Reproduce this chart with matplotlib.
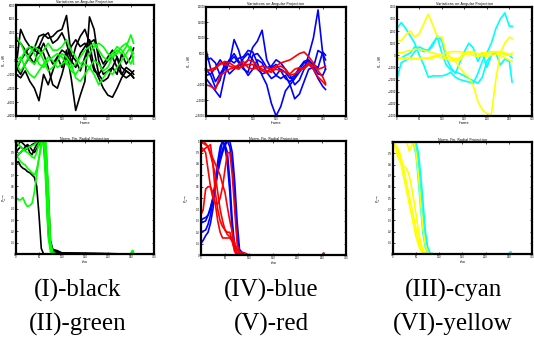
import matplotlib.pyplot as plt

# frames for the angular projection panels
frames = [0, 10, 20, 30, 40, 50, 60, 70, 80, 90, 100, 110, 120, 130, 140,
          150, 160, 170, 180, 190, 200, 210, 220, 230, 240, 250, 256]

# (I) black / (II) green  -- angular projection
black_ang = [
    [-1000, 4500, 3000, 2000, 1800, 3500, 3800, 3200, 3500, 4200, 4500, 6500, 800, 0, -1500, 500, 2500, 3000, 1000, -500, 500, 1500, 500, -1000, -1500, -2000, -2500],
    [-2000, -2500, -1500, -3000, -4000, -5800, -2000, -3500, -1500, 500, -1000, 1500, -2500, -7200, -5000, -3000, 6300, 4500, 0, -2000, -1500, -1000, -2000, 1000, -500, 500, 1800],
    [3000, 2500, 1500, 500, -500, 2000, 3500, 4000, 2500, 3000, 4000, 2500, 0, -1000, 1000, 2000, 3000, 1500, -2000, -3000, -2500, -1000, 500, -2000, -1000, -1500, -2000],
    [-1500, 0, 1000, 2000, 1500, 1000, 2500, 1000, -500, 500, 1500, 1000, -500, 2000, 3500, 4500, 2500, -1000, -2500, -4000, -5000, -5300, -4000, -2500, -1500, -2000, -2500],
    [-1000, -2000, -500, 500, 1500, 2000, 1000, -1000, -3500, -4000, -2000, 500, 2000, 3000, 2000, 2500, 1000, -1500, -2000, -1000, 0, 500, -1000, -2000, -2500, -2000, -1500],
]
green_ang = [
    [3500, 2500, 1000, 0, -500, 500, 1500, 2500, 1500, 1500, 2000, 3000, 1500, 500, -500, 0, 1000, 2000, 2500, 2000, 1000, 500, 1500, 1000, 2000, 3700, 2500],
    [-1000, 0, 1500, 2000, 1000, -500, -1000, 0, 500, 1000, 500, -500, -1000, -500, 500, 1500, 2000, 2500, 1500, 500, 0, 1000, 2000, 1500, 500, -500, 500],
    [0, 500, -1000, -2000, -2500, -1500, -500, 500, 0, -1000, -500, 0, -1500, -2000, -1000, -500, -1000, -2000, -3500, -2500, -1500, -2000, -1000, 0, 1000, 2000, -500],
    [-500, -1500, -500, 1000, 2000, 1500, 0, -1500, -1000, 0, 1000, 500, -500, -2500, -3000, -2000, -1000, 0, -500, -1500, -1000, 500, 1000, 2000, 2500, 1500, 1000],
]

# (IV) blue / (V) red
blue_ang = [
    [0, -2000, -6000, -3500, 2000, 2500, 4000, 2000, 0, -1000, 4500, 5000, 3000, 500, 1000, 3000, 2000, 0, -2000, -5000, -3500, 0, 4500, 10000, 19000, 5000, 3000],
    [6000, 0, -4000, -1500, 1000, 3000, 2000, 3500, 4000, 6000, 5500, 2000, -2000, -5000, -11000, -15000, -12000, -7000, -5000, -3000, -1000, 1000, 2000, 0, -3000, -5500, -6500],
    [-3000, -5000, -7000, -9000, -2000, 3000, 5000, 2500, 1000, 3000, 7000, 9000, 12500, 3000, 0, -2000, -3000, -2000, -5000, -9500, -8000, -4000, 0, 500, 6000, 5000, 0],
    [3000, 3500, 2000, -2000, 0, 2000, 9500, 6000, 500, -2000, 0, 3000, 2000, -1000, -3000, -2000, 0, -1000, -3000, -2000, 500, 2500, 3000, 1000, -1500, -2000, 0],
    [-2000, -1500, 500, 3000, 1000, -1500, 0, 1000, 3500, 5000, 3000, 0, -1500, -1000, 500, 1500, -500, -3000, -4000, -2500, 0, 2000, 2500, 1500, 500, 5500, 4500],
]
red_ang = [
    [-5000, -5500, -6500, -2000, -1000, 0, 500, 1500, 2500, 500, 0, 500, 1000, 500, 0, 1000, 2000, 2500, 3000, 4000, 5000, 5500, 4000, 2000, -500, -2500, -4500],
    [0, -500, 0, 2000, 1500, 1000, 500, 0, 1500, 3000, 2500, 1000, 0, -500, -1000, 500, 1000, 0, -2000, -1500, -500, 500, 2000, 1000, 0, 500, 1000],
    [-1000, 0, 500, 1500, 2500, 2000, 1000, 500, 1000, 1500, 1500, 0, -500, -1000, -500, 0, -500, -1000, -1500, 0, 500, 0, 1500, 0, -2500, -4000, -5000],
]

# (III) cyan / (VI) yellow
cyan_ang = [
    [2200, 2700, 2200, 1600, 1000, 0, -800, -1800, -1700, -1700, -1700, -1600, -1400, -1800, -2000, -2100, -2200, -2300, -1500, -500, 200, 1000, 2200, 3000, 3500, 2400, 2400],
    [-2000, -600, -400, -200, 300, 700, 500, 400, 800, 1600, 1200, -200, -1000, -1500, -600, 300, 1000, 600, -500, 200, -1000, 0, 200, -800, -300, -500, -2200],
    [-300, -200, 0, 200, 700, 500, 300, 400, 1000, 1500, 200, -800, -1200, -1400, -1500, -1700, -1900, -2100, -2300, -1800, -500, 0, 300, 200, 100, 0, -200],
]
yellow_ang = [
    [1200, 1200, 1700, 2000, 1500, 1800, 2600, 3400, 2500, 1500, 1500, 200, -200, -500, -1000, -1500, -1800, -2500, -3800, -4500, -4800, -4900, -2000, 200, 1000, 1500, 1400],
    [200, 200, 300, 400, 500, 500, 400, 300, 200, 100, 0, -100, -200, -300, -200, 200, 300, 200, 100, 200, 200, 300, 300, 200, 100, 0, 200],
    [-300, -300, -300, -300, -300, -300, -250, -200, -100, 0, 100, 200, 300, 300, 300, 200, 100, 0, -100, 0, 100, 200, 300, 300, 200, 100, 0],
    [-200, -200, -200, -200, -250, -250, -250, -250, -200, -100, -200, -300, -400, -500, -400, 0, 300, 300, 100, 0, -100, 0, 100, 0, -200, -400, -500],
]

# rho values for the radial projection panels
rho = [0, 5, 10, 15, 20, 25, 30, 35, 40, 45, 50, 55, 60, 65, 70,
       75, 80, 90, 100, 250, 254, 256]

black_rad = [
    [0.80, 0.82, 0.78, 0.76, 0.75, 0.73, 0.72, 0.70, 0.68, 0.60, 0.35, 0.05, 0.0, 0.0, 0.0, 0.0, 0.0, 0.0, 0.0, 0.0, 0.0, 0.0],
    [0.90, 0.93, 0.95, 0.93, 0.92, 0.94, 0.95, 0.97, 0.98, 0.99, 1.0, 1.0, 1.0, 0.80, 0.30, 0.08, 0.04, 0.02, 0.01, 0.0, 0.0, 0.0],
    [0.95, 0.97, 1.0, 0.98, 0.96, 0.95, 0.90, 0.88, 0.93, 0.97, 1.0, 1.0, 1.0, 0.95, 0.55, 0.12, 0.04, 0.03, 0.01, 0.0, 0.0, 0.0],
    [0.85, 0.88, 0.90, 0.92, 0.95, 0.97, 0.95, 0.92, 0.90, 0.93, 0.97, 1.0, 1.0, 0.70, 0.20, 0.05, 0.02, 0.01, 0.0, 0.0, 0.0, 0.0],
]
green_rad = [
    [0.50, 0.48, 0.48, 0.50, 0.45, 0.42, 0.43, 0.45, 0.55, 0.70, 0.85, 0.95, 1.0, 1.0, 0.60, 0.10, 0.01, 0.0, 0.0, 0.0, 0.03, 0.0],
    [0.88, 0.85, 0.82, 0.80, 0.79, 0.76, 0.74, 0.72, 0.70, 0.75, 0.85, 1.0, 1.0, 0.60, 0.15, 0.02, 0.0, 0.0, 0.0, 0.0, 0.03, 0.0],
    [1.0, 0.98, 0.95, 0.93, 0.91, 0.90, 0.88, 0.86, 0.85, 0.90, 0.98, 1.0, 1.0, 0.85, 0.35, 0.05, 0.0, 0.0, 0.0, 0.0, 0.03, 0.0],
    [0.85, 0.88, 0.90, 0.92, 0.93, 0.94, 0.95, 0.96, 0.97, 0.99, 1.0, 1.0, 1.0, 0.95, 0.50, 0.10, 0.01, 0.0, 0.0, 0.0, 0.03, 0.0],
]
blue_rad = [
    [0.10, 0.13, 0.17, 0.20, 0.28, 0.40, 0.58, 0.75, 0.90, 1.0, 0.97, 0.90, 0.65, 0.30, 0.08, 0.0, 0.0, 0.0, 0.0, 0.0, 0.0, 0.0],
    [0.20, 0.21, 0.22, 0.27, 0.35, 0.48, 0.65, 0.82, 0.95, 1.0, 0.95, 0.80, 0.55, 0.20, 0.04, 0.0, 0.0, 0.0, 0.0, 0.0, 0.0, 0.0],
    [0.28, 0.29, 0.30, 0.35, 0.40, 0.50, 0.62, 0.75, 0.85, 0.93, 0.98, 1.0, 0.95, 0.80, 0.50, 0.15, 0.02, 0.0, 0.0, 0.0, 0.0, 0.0],
    [0.30, 0.32, 0.33, 0.35, 0.42, 0.50, 0.60, 0.72, 0.82, 0.90, 0.96, 1.0, 1.0, 0.90, 0.65, 0.30, 0.05, 0.0, 0.0, 0.0, 0.0, 0.0],
]
red_rad = [
    [0.98, 1.0, 0.98, 0.95, 0.88, 0.80, 0.70, 0.55, 0.40, 0.30, 0.22, 0.18, 0.16, 0.15, 0.10, 0.05, 0.0, 0.0, 0.0, 0.0, 0.0, 0.0],
    [0.35, 0.40, 0.58, 0.60, 0.60, 0.55, 0.45, 0.30, 0.20, 0.15, 0.15, 0.15, 0.15, 0.12, 0.05, 0.02, 0.0, 0.0, 0.0, 0.0, 0.02, 0.0],
    [0.95, 0.93, 0.90, 0.75, 0.60, 0.50, 0.45, 0.45, 0.50, 0.60, 0.75, 0.90, 0.90, 0.70, 0.40, 0.10, 0.02, 0.0, 0.0, 0.0, 0.0, 0.0],
    [1.0, 0.98, 0.97, 0.95, 0.90, 0.85, 0.80, 0.75, 0.70, 0.62, 0.55, 0.42, 0.30, 0.20, 0.10, 0.05, 0.03, 0.02, 0.0, 0.0, 0.0, 0.0],
    [0.90, 0.92, 0.94, 0.95, 0.97, 0.80, 0.55, 0.40, 0.30, 0.25, 0.22, 0.20, 0.20, 0.12, 0.03, 0.0, 0.0, 0.0, 0.0, 0.0, 0.0, 0.0],
]
cyan_rad = [
    [1.0, 1.0, 1.0, 1.0, 1.0, 1.0, 1.0, 1.0, 1.0, 1.0, 0.95, 0.80, 0.55, 0.30, 0.12, 0.03, 0.0, 0.0, 0.0, 0.0, 0.02, 0.0],
    [1.0, 1.0, 1.0, 1.0, 1.0, 1.0, 1.0, 1.0, 1.0, 1.0, 1.0, 0.90, 0.70, 0.45, 0.20, 0.06, 0.01, 0.0, 0.0, 0.0, 0.02, 0.0],
    [1.0, 1.0, 1.0, 1.0, 1.0, 1.0, 1.0, 1.0, 1.0, 0.98, 0.88, 0.65, 0.40, 0.18, 0.06, 0.01, 0.0, 0.0, 0.0, 0.0, 0.02, 0.0],
]
yellow_rad = [
    [1.0, 0.95, 0.87, 0.83, 0.80, 0.78, 0.76, 0.70, 0.60, 0.48, 0.35, 0.20, 0.10, 0.04, 0.01, 0.0, 0.0, 0.0, 0.0, 0.0, 0.0, 0.0],
    [1.0, 0.97, 0.92, 0.85, 0.75, 0.65, 0.55, 0.45, 0.35, 0.25, 0.15, 0.08, 0.03, 0.01, 0.0, 0.0, 0.0, 0.0, 0.0, 0.0, 0.0, 0.0],
    [1.0, 0.98, 0.95, 0.90, 0.82, 0.72, 0.62, 0.52, 0.42, 0.32, 0.22, 0.12, 0.05, 0.02, 0.0, 0.0, 0.0, 0.0, 0.0, 0.0, 0.0, 0.0],
    [1.0, 1.0, 1.0, 1.0, 1.0, 1.0, 1.0, 0.92, 0.97, 1.0, 0.90, 0.70, 0.45, 0.22, 0.08, 0.02, 0.0, 0.0, 0.0, 0.0, 0.0, 0.0],
]

captions = [("(I)-black", "(II)-green"), ("(IV)-blue", "(V)-red"), ("(III)-cyan", "(VI)-yellow")]

fig = plt.figure(figsize=(5.34, 3.41), dpi=100)

top_pos = [[0.030, 0.660, 0.258, 0.325], [0.386, 0.660, 0.262, 0.320], [0.743, 0.660, 0.253, 0.320]]
bot_pos = [[0.030, 0.255, 0.258, 0.331], [0.376, 0.252, 0.272, 0.334], [0.736, 0.255, 0.260, 0.328]]
top_ylim = [(-8000, 8000), (-15000, 20000), (-5000, 4000)]
top_step = [2000, 5000, 1000]
top_label_x = [-0.055, -0.095, -0.095]
bot_label_x = [-0.05, -0.07, -0.07]

groups_ang = [(black_ang, "black", green_ang, "#00ff00"),
              (blue_ang, "#0000ff", red_ang, "#ff0000"),
              (cyan_ang, "#00ffff", yellow_ang, "#ffff00")]
groups_rad = [(black_rad, "black", green_rad, "#00ff00"),
              (blue_rad, "#0000ff", red_rad, "#ff0000"),
              (cyan_rad, "#00ffff", yellow_rad, "#ffff00")]

def style(ax):
    for s in ax.spines.values():
        s.set_linewidth(1.6)
    ax.tick_params(labelsize=1.8, length=1.5, width=0.5, direction='in', pad=0.8,
                   top=True, right=True)
    ax.set_xlim(0, 300)
    ax.set_xticks(range(0, 301, 50))

for i in range(3):
    ax = fig.add_axes(top_pos[i])
    a, ca, b, cb = groups_ang[i]
    for ys in a:
        ax.plot(frames, ys, color=ca, lw=1.2)
    for ys in b:
        ax.plot(frames, ys, color=cb, lw=1.2)
    style(ax)
    lo, hi = top_ylim[i]
    ax.set_ylim(lo, hi)
    ax.set_yticks(range(lo, hi + 1, top_step[i]))
    ax.set_title("Variations on Angular Projection", fontsize=2.5, pad=1.2)
    ax.set_xlabel("frame", fontsize=2.5, labelpad=0.3)
    ax.set_ylabel(r"$P_{\omega,tk}(\theta)$", fontsize=2.3)
    ax.yaxis.set_label_coords(top_label_x[i], 0.5)

    ax = fig.add_axes(bot_pos[i])
    a, ca, b, cb = groups_rad[i]
    for ys in a:
        ax.plot(rho, ys, color=ca, lw=1.2)
    for ys in b:
        ax.plot(rho, ys, color=cb, lw=1.2)
    style(ax)
    ax.set_ylim(0, 1)
    ax.set_yticks([k / 10 for k in range(11)])
    ax.set_yticklabels(["0"] + [f"{k / 10:.1f}" for k in range(1, 10)] + ["1"])
    ax.set_title("Norm. Fin. Radial Projection", fontsize=2.5, pad=1.2)
    ax.set_xlabel("rho", fontsize=2.5, labelpad=0.3)
    ax.set_ylabel(r"$P^{(rho)}_{tk}$", fontsize=2.3)
    ax.yaxis.set_label_coords(bot_label_x[i], 0.5)

centers = [78 / 534, 271 / 534, 453 / 534]
for cx, (l1, l2) in zip(centers, captions):
    fig.text(cx, 1 - 290 / 341, l1, ha='center', va='center', fontsize=18,
             family='Liberation Serif')
    fig.text(cx, 1 - 324 / 341, l2, ha='center', va='center', fontsize=18,
             family='Liberation Serif')

fig.savefig("out.png", dpi=100)
